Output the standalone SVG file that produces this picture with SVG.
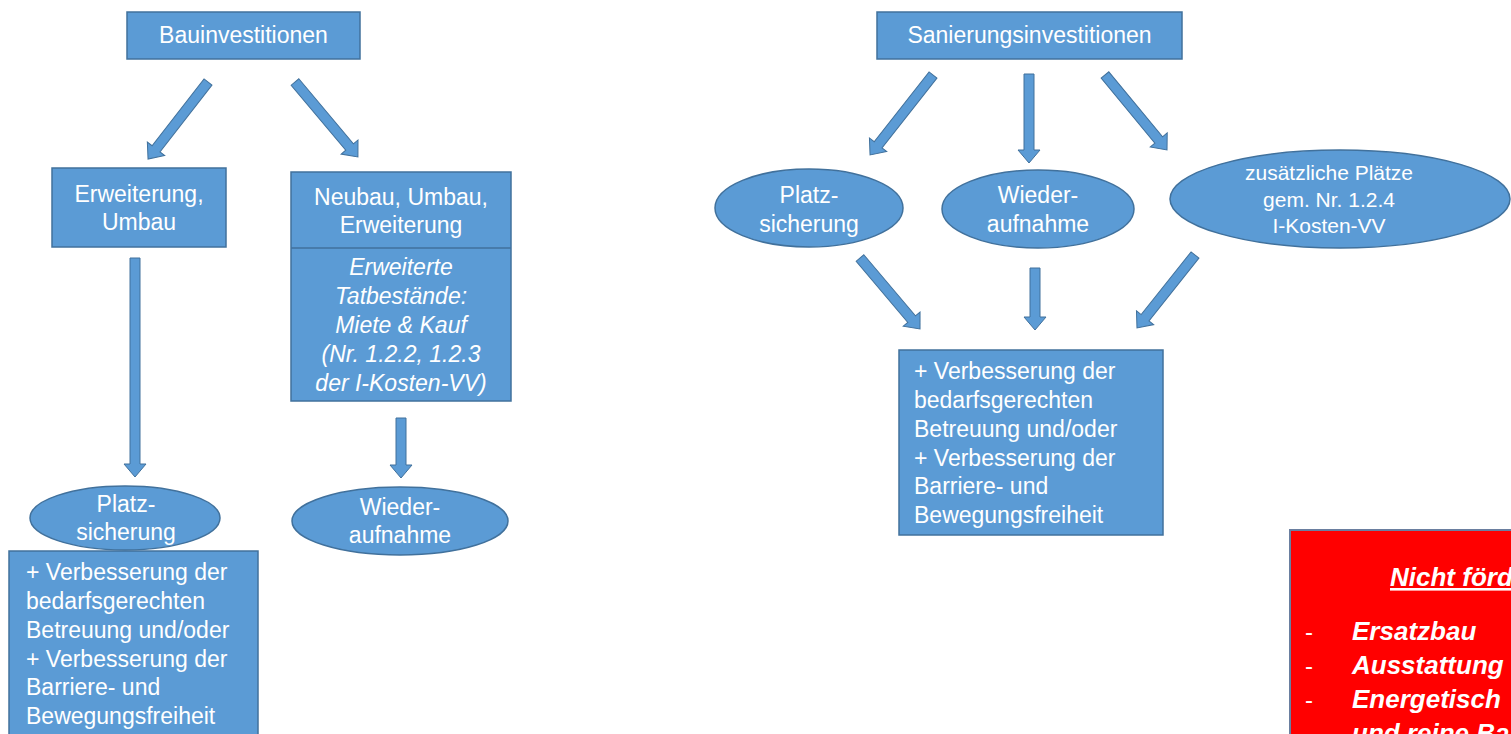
<svg xmlns="http://www.w3.org/2000/svg" width="1511" height="734" viewBox="0 0 1511 734">
<style>
.box{fill:#5B9BD5;stroke:#41719C;stroke-width:1.5}
.arr{fill:#5B9BD5;stroke:#41719C;stroke-width:1}
.t{font-family:"Liberation Sans",Arial,sans-serif;font-size:23px;fill:#FFFFFF}
.c{text-anchor:middle}
.i{font-style:italic}
.s{font-size:21px}
.r{font-family:"Liberation Sans",Arial,sans-serif;font-size:26px;fill:#FFFFFF;font-weight:bold;font-style:italic}
.d{font-family:"Liberation Sans",Arial,sans-serif;font-size:24px;fill:#FFFFFF}
</style>
<rect width="1511" height="734" fill="#FFFFFF"/>

<g id="connectors">
<polygon class="arr" transform="translate(208,82) rotate(127.9)" points="0,-5 84.6,-5 84.6,-11 97.6,0 84.6,11 84.6,5 0,5"/>
<polygon class="arr" transform="translate(295,82) rotate(50)" points="0,-5 84.9,-5 84.9,-11 97.9,0 84.9,11 84.9,5 0,5"/>
<polygon class="arr" transform="translate(135,258) rotate(90)" points="0,-5 206,-5 206,-11 219,0 206,11 206,5 0,5"/>
<polygon class="arr" transform="translate(401,418) rotate(90)" points="0,-5 47,-5 47,-11 60,0 47,11 47,5 0,5"/>
<polygon class="arr" transform="translate(933,75) rotate(128.2)" points="0,-5 88.8,-5 88.8,-11 101.8,0 88.8,11 88.8,5 0,5"/>
<polygon class="arr" transform="translate(1029,74) rotate(90)" points="0,-5 76,-5 76,-11 89,0 76,11 76,5 0,5"/>
<polygon class="arr" transform="translate(1105,75) rotate(50.4)" points="0,-5 84.3,-5 84.3,-11 97.3,0 84.3,11 84.3,5 0,5"/>
<polygon class="arr" transform="translate(860,258) rotate(49.8)" points="0,-5 80,-5 80,-11 93,0 80,11 80,5 0,5"/>
<polygon class="arr" transform="translate(1035,268) rotate(90)" points="0,-5 49,-5 49,-11 62,0 49,11 49,5 0,5"/>
<polygon class="arr" transform="translate(1195,255) rotate(128.5)" points="0,-5 80.2,-5 80.2,-11 93.2,0 80.2,11 80.2,5 0,5"/>
</g>

<g id="bauinvestitionen">
<rect class="box" x="127" y="12" width="233" height="47"/>
<text class="t c" x="243.5" y="43">Bauinvestitionen</text>
</g>

<g id="erweiterung-umbau">
<rect class="box" x="52" y="168" width="174" height="79"/>
<text class="t c" x="139" y="202">Erweiterung,</text>
<text class="t c" x="139" y="230">Umbau</text>
</g>

<g id="neubau">
<rect class="box" x="291" y="172" width="220" height="229"/>
<line x1="291" y1="248" x2="511" y2="248" stroke="#41719C" stroke-width="1.5"/>
<text class="t c" x="401" y="205">Neubau, Umbau,</text>
<text class="t c" x="401" y="233">Erweiterung</text>
<text class="t c i" x="401" y="275">Erweiterte</text>
<text class="t c i" x="401" y="304">Tatbestände:</text>
<text class="t c i" x="401" y="333">Miete &amp; Kauf</text>
<text class="t c i" x="401" y="362">(Nr. 1.2.2, 1.2.3</text>
<text class="t c i" x="401" y="391">der I-Kosten-VV)</text>
</g>

<g id="left-verbesserung">
<rect class="box" x="9" y="551" width="249" height="200"/>
<text class="t" x="26" y="580">+ Verbesserung der</text>
<text class="t" x="26" y="609">bedarfsgerechten</text>
<text class="t" x="26" y="638">Betreuung und/oder</text>
<text class="t" x="26" y="667">+ Verbesserung der</text>
<text class="t" x="26" y="695">Barriere- und</text>
<text class="t" x="26" y="724">Bewegungsfreiheit</text>
</g>

<g id="left-platzsicherung">
<ellipse class="box" cx="125" cy="518" rx="95" ry="32"/>
<text class="t c" x="126" y="512">Platz-</text>
<text class="t c" x="126" y="540">sicherung</text>
</g>

<g id="left-wiederaufnahme">
<ellipse class="box" cx="400" cy="521" rx="108" ry="34"/>
<text class="t c" x="400" y="515">Wieder-</text>
<text class="t c" x="400" y="543">aufnahme</text>
</g>

<g id="sanierungsinvestitionen">
<rect class="box" x="877" y="12" width="305" height="47"/>
<text class="t c" x="1029.5" y="43">Sanierungsinvestitionen</text>
</g>

<g id="right-platzsicherung">
<ellipse class="box" cx="809" cy="208" rx="94" ry="39"/>
<text class="t c" x="809" y="203">Platz-</text>
<text class="t c" x="809" y="232">sicherung</text>
</g>

<g id="right-wiederaufnahme">
<ellipse class="box" cx="1038" cy="209" rx="96" ry="39"/>
<text class="t c" x="1038" y="203">Wieder-</text>
<text class="t c" x="1038" y="232">aufnahme</text>
</g>

<g id="zusaetzliche-plaetze">
<ellipse class="box" cx="1340" cy="199" rx="170" ry="49"/>
<text class="t c s" x="1329" y="180">zusätzliche Plätze</text>
<text class="t c s" x="1329" y="207">gem. Nr. 1.2.4</text>
<text class="t c s" x="1329" y="233">I-Kosten-VV</text>
</g>

<g id="right-verbesserung">
<rect class="box" x="899" y="350" width="264" height="185"/>
<text class="t" x="914" y="379">+ Verbesserung der</text>
<text class="t" x="914" y="408">bedarfsgerechten</text>
<text class="t" x="914" y="437">Betreuung und/oder</text>
<text class="t" x="914" y="466">+ Verbesserung der</text>
<text class="t" x="914" y="494">Barriere- und</text>
<text class="t" x="914" y="523">Bewegungsfreiheit</text>
</g>

<g id="nicht-foerderfaehig">
<rect x="1290" y="530" width="240" height="220" fill="#FF0000" stroke="#6A7FA0" stroke-width="2"/>
<text class="r" x="1390" y="586" text-decoration="underline">Nicht förd</text>
<text class="d" x="1305" y="640">-</text>
<text class="r" x="1352" y="640">Ersatzbau</text>
<text class="d" x="1305" y="674">-</text>
<text class="r" x="1352" y="674">Ausstattung</text>
<text class="d" x="1305" y="708">-</text>
<text class="r" x="1352" y="708">Energetisch</text>
<text class="r" x="1352" y="742">und reine Ba</text>
</g>
</svg>
